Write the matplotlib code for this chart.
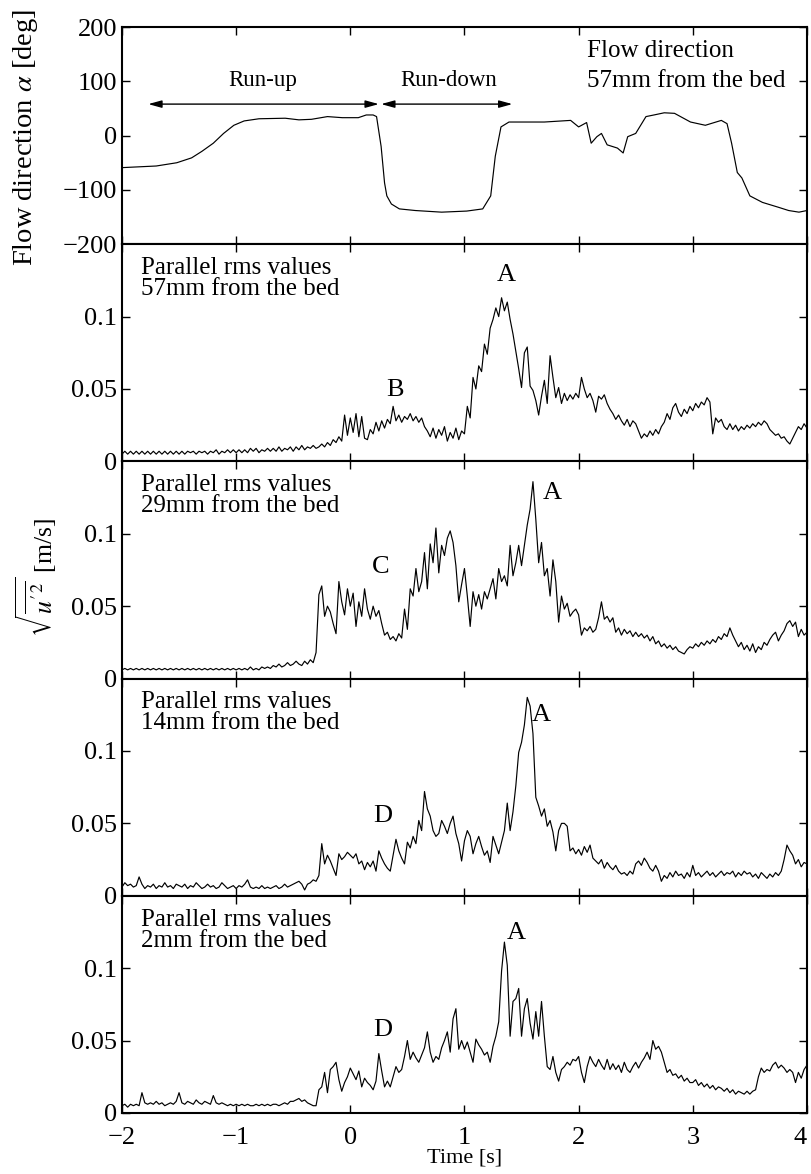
import matplotlib
matplotlib.use('Agg')
import matplotlib.pyplot as plt
import numpy as np

plt.rcParams['font.family'] = ['Liberation Serif', 'DejaVu Serif']
plt.rcParams['mathtext.fontset'] = 'stix'

# sample start and spacing of the rms traces [s]
T0 = -2.0
DT = 0.025

# flow direction, 57mm from the bed
alpha_t = [-2.0, -1.7, -1.52, -1.39, -1.3, -1.2, -1.11, -1.02, -0.93, -0.8,
           -0.57, -0.45, -0.34, -0.2, -0.07, 0.07, 0.14, 0.2, 0.23, 0.27,
           0.3, 0.32, 0.36, 0.43, 0.57, 0.8, 1.02, 1.16, 1.23, 1.27,
           1.32, 1.39, 1.7, 1.93, 2.0, 2.07, 2.11, 2.16, 2.2, 2.25,
           2.34, 2.39, 2.43, 2.5, 2.59, 2.66, 2.75, 2.84, 2.98, 3.11,
           3.25, 3.3, 3.34, 3.39, 3.43, 3.5, 3.61, 3.75, 3.84, 3.93, 4.0]
alpha = [-59, -56, -50, -41, -29, -14, 4, 19, 27, 31,
         32, 29, 30, 35, 33, 33, 38, 38, 35, -20,
         -87, -111, -126, -135, -138, -141, -139, -135, -111, -38,
         16, 25, 25, 28, 16, 24, -14, -2, 4, -17,
         -23, -32, -2, 4, 35, 38, 42, 41, 25, 19,
         28, 22, -14, -68, -78, -111, -123, -132, -138, -141, -138]

# parallel rms values [mm/s], one row = 0.25 s
rms_57 = [
    5, 7, 5, 7, 5, 7, 5, 7, 5, 7,
    5, 7, 5, 7, 5, 7, 5, 7, 5, 7,
    5, 7, 5, 7, 6, 7, 5, 7, 6, 7,
    5, 7, 6, 8, 5, 7, 6, 8, 6, 8,
    6, 8, 6, 8, 6, 9, 7, 9, 6, 8,
    7, 9, 7, 9, 7, 10, 7, 9, 8, 10,
    7, 10, 8, 11, 8, 10, 9, 11, 9, 10,
    12, 10, 13, 11, 15, 13, 17, 14, 32, 18,
    30, 20, 33, 17, 31, 16, 15, 22, 19, 27,
    21, 28, 23, 29, 26, 38, 28, 32, 27, 31,
    29, 33, 28, 31, 27, 30, 24, 21, 17, 23,
    16, 22, 18, 24, 14, 20, 16, 23, 15, 21,
    19, 38, 30, 58, 50, 66, 62, 81, 74, 92,
    98, 106, 100, 113, 104, 110, 98, 88, 76, 64,
    51, 75, 79, 52, 49, 42, 32, 45, 56, 40,
    73, 58, 44, 51, 40, 47, 42, 46, 43, 47,
    44, 58, 50, 44, 47, 42, 34, 45, 43, 46,
    40, 36, 33, 29, 32, 28, 25, 29, 24, 28,
    26, 21, 16, 19, 17, 21, 18, 22, 19, 24,
    27, 33, 29, 37, 40, 34, 31, 36, 33, 38,
    35, 40, 37, 41, 39, 44, 41, 19, 30, 27,
    29, 24, 22, 26, 22, 25, 21, 24, 22, 25,
    23, 26, 24, 27, 25, 28, 26, 22, 20, 18,
    19, 16, 17, 14, 12, 16, 20, 24, 22, 26,
    23]

rms_29 = [
    6, 7, 6, 7, 6, 7, 6, 7, 6, 7,
    6, 7, 6, 7, 6, 7, 6, 7, 6, 7,
    6, 7, 6, 7, 6, 7, 6, 7, 6, 7,
    6, 7, 6, 7, 6, 7, 6, 7, 6, 7,
    6, 7, 6, 7, 6, 8, 6, 7, 6, 8,
    7, 8, 7, 9, 8, 10, 8, 9, 11, 9,
    10, 12, 10, 9, 12, 10, 13, 11, 18, 58,
    64, 43, 50, 46, 38, 31, 67, 53, 44, 62,
    50, 59, 36, 53, 43, 62, 48, 41, 50, 43,
    47, 38, 30, 32, 27, 29, 26, 31, 28, 48,
    34, 62, 57, 76, 60, 67, 87, 62, 93, 80,
    104, 73, 92, 85, 97, 102, 94, 78, 53, 65,
    76, 57, 36, 60, 50, 58, 48, 60, 55, 62,
    69, 55, 76, 67, 71, 64, 92, 71, 80, 92,
    78, 92, 106, 117, 136, 110, 80, 94, 71, 76,
    57, 82, 67, 39, 57, 48, 52, 43, 46, 48,
    44, 30, 35, 33, 36, 32, 34, 42, 53, 41,
    43, 39, 42, 32, 35, 30, 34, 31, 33, 29,
    32, 29, 31, 28, 30, 26, 29, 24, 26, 22,
    24, 21, 23, 20, 22, 19, 18, 17, 20, 22,
    21, 24, 22, 25, 23, 26, 24, 27, 25, 29,
    27, 31, 29, 35, 30, 26, 22, 25, 20, 23,
    19, 24, 18, 22, 20, 25, 23, 27, 30, 32,
    26, 30, 33, 38, 40, 36, 39, 29, 34, 30,
    32]

rms_14 = [
    6, 9, 7, 8, 6, 7, 13, 8, 5, 7,
    6, 8, 5, 7, 6, 9, 6, 7, 5, 8,
    7, 6, 8, 5, 7, 6, 9, 7, 5, 6,
    8, 6, 7, 5, 6, 9, 7, 5, 6, 7,
    5, 7, 6, 8, 11, 6, 5, 6, 5, 7,
    5, 6, 5, 6, 7, 5, 6, 8, 6, 7,
    8, 9, 10, 8, 4, 8, 9, 11, 10, 14,
    36, 22, 28, 24, 19, 14, 29, 25, 27, 30,
    28, 26, 29, 22, 24, 18, 23, 20, 24, 17,
    31, 26, 22, 19, 17, 28, 39, 31, 26, 22,
    37, 33, 41, 36, 52, 45, 72, 60, 55, 45,
    41, 43, 52, 48, 43, 50, 55, 43, 36, 24,
    38, 45, 41, 29, 36, 41, 34, 28, 31, 23,
    41, 35, 29, 37, 45, 64, 45, 58, 76, 99,
    106, 118, 137, 131, 112, 68, 62, 55, 60, 48,
    52, 44, 31, 45, 50, 50, 48, 31, 33, 29,
    32, 28, 34, 30, 35, 26, 24, 22, 25, 19,
    23, 20, 18, 21, 17, 15, 16, 14, 17, 15,
    22, 24, 21, 26, 23, 19, 17, 21, 17, 10,
    14, 12, 16, 13, 17, 14, 15, 12, 16, 13,
    21, 14, 16, 13, 15, 17, 14, 16, 13, 15,
    17, 14, 16, 15, 17, 13, 16, 14, 17, 15,
    16, 13, 15, 12, 16, 14, 12, 15, 13, 16,
    14, 17, 25, 35, 31, 28, 22, 25, 20, 23,
    22]

rms_2 = [
    5, 6, 4, 6, 5, 6, 5, 14, 7, 6,
    7, 6, 8, 6, 7, 5, 6, 7, 6, 8,
    14, 7, 6, 8, 7, 6, 9, 7, 6, 8,
    7, 6, 12, 7, 6, 7, 6, 5, 6, 5,
    6, 5, 6, 5, 6, 5, 5, 6, 5, 6,
    5, 6, 5, 6, 6, 5, 6, 7, 6, 8,
    8, 9, 10, 8, 9, 7, 6, 5, 5, 16,
    18, 28, 14, 30, 32, 35, 23, 15, 21, 25,
    31, 27, 23, 29, 18, 24, 21, 19, 16, 22,
    41, 29, 18, 22, 18, 25, 32, 28, 30, 39,
    50, 37, 42, 38, 35, 40, 45, 56, 42, 35,
    39, 37, 45, 50, 56, 42, 65, 72, 44, 50,
    44, 49, 42, 35, 51, 47, 44, 40, 42, 35,
    46, 53, 63, 98, 118, 102, 53, 77, 79, 86,
    53, 72, 79, 62, 51, 70, 53, 77, 53, 32,
    30, 39, 28, 22, 30, 32, 35, 33, 37, 36,
    39, 28, 21, 32, 39, 35, 32, 37, 33, 30,
    37, 30, 34, 30, 33, 28, 35, 30, 28, 32,
    35, 31, 35, 38, 42, 37, 50, 44, 46, 42,
    35, 28, 30, 26, 27, 24, 26, 22, 24, 21,
    21, 23, 19, 21, 18, 20, 17, 19, 16, 18,
    17, 15, 17, 14, 16, 13, 15, 14, 13, 15,
    13, 15, 16, 25, 31, 28, 30, 29, 33, 35,
    31, 33, 31, 28, 30, 28, 21, 28, 24, 30,
    33]

rms_series = [rms_57, rms_29, rms_14, rms_2]
rms_heights = ['57mm from the bed', '29mm from the bed',
               '14mm from the bed', '2mm from the bed']
# (letter, time, value in m/s)
rms_marks = [[('A', 1.37, 0.129), ('B', 0.39, 0.049)],
             [('A', 1.77, 0.128), ('C', 0.27, 0.077)],
             [('A', 1.67, 0.125), ('D', 0.28, 0.055)],
             [('A', 1.45, 0.124), ('D', 0.28, 0.057)]]

TICK_SIZE = 19
NOTE_SIZE = 18
LINE_W = 0.85

fig = plt.figure(figsize=(8.11, 11.74), dpi=100)
axes = fig.subplots(5, 1, sharex=True)
fig.subplots_adjust(left=0.1504, right=0.995, top=0.977, bottom=0.052, hspace=0)

for ax in axes:
    ax.tick_params(direction='in', top=True, right=True, length=6, width=1,
                   labelsize=TICK_SIZE)
    ax.tick_params(axis='x', pad=10)
    for s in ax.spines.values():
        s.set_linewidth(1.5)
    ax.set_xlim(-2, 4)
    ax.set_xticks(range(-2, 5))

# top panel: flow direction
ax = axes[0]
ax.plot(alpha_t, alpha, color='k', lw=LINE_W)
ax.set_ylim(-200, 200)
ax.set_yticks([-200, -100, 0, 100, 200])
arrow = dict(arrowstyle='<|-|>,head_length=0.8,head_width=0.22', color='k',
             lw=1.0, shrinkA=0, shrinkB=0)
ax.annotate('', xy=(-1.77, 58), xytext=(0.25, 58), arrowprops=arrow)
ax.annotate('', xy=(0.27, 58), xytext=(1.42, 58), arrowprops=arrow)
ax.text(-0.77, 101, 'Run-up', ha='center', va='center', fontsize=16.5)
ax.text(0.86, 101, 'Run-down', ha='center', va='center', fontsize=16.5)
ax.text(2.07, 156, 'Flow direction', ha='left', va='center', fontsize=NOTE_SIZE)
ax.text(2.07, 101, '57mm from the bed', ha='left', va='center', fontsize=NOTE_SIZE)

# rms panels
for ax, vals, height, marks in zip(axes[1:], rms_series, rms_heights, rms_marks):
    t = T0 + DT * np.arange(len(vals))
    ax.plot(t, np.array(vals) / 1000.0, color='k', lw=LINE_W)
    ax.set_ylim(0, 0.15)
    ax.set_yticks([0, 0.05, 0.1])
    ax.set_yticklabels(['0', '0.05', '0.1'])
    ax.text(-1.83, 0.1335, 'Parallel rms values', ha='left', va='center',
            fontsize=NOTE_SIZE)
    ax.text(-1.83, 0.119, height, ha='left', va='center', fontsize=NOTE_SIZE)
    for letter, x, y in marks:
        ax.text(x, y, letter, ha='center', va='center', fontsize=19)

last = axes[-1]
last.set_xlabel('Time [s]', fontsize=16, labelpad=0)
last.get_xticklabels()[-1].set_ha('right')

fig.text(0.032, 0.883, r'Flow direction $\alpha$ [deg]', rotation=90,
         ha='center', va='center', fontsize=20.5)
fig.text(0.045, 0.508, r"$\sqrt{\overline{u'^2}}$ [m/s]", rotation=90,
         ha='center', va='center', fontsize=18.5)

fig.savefig('out.png', dpi=100)
